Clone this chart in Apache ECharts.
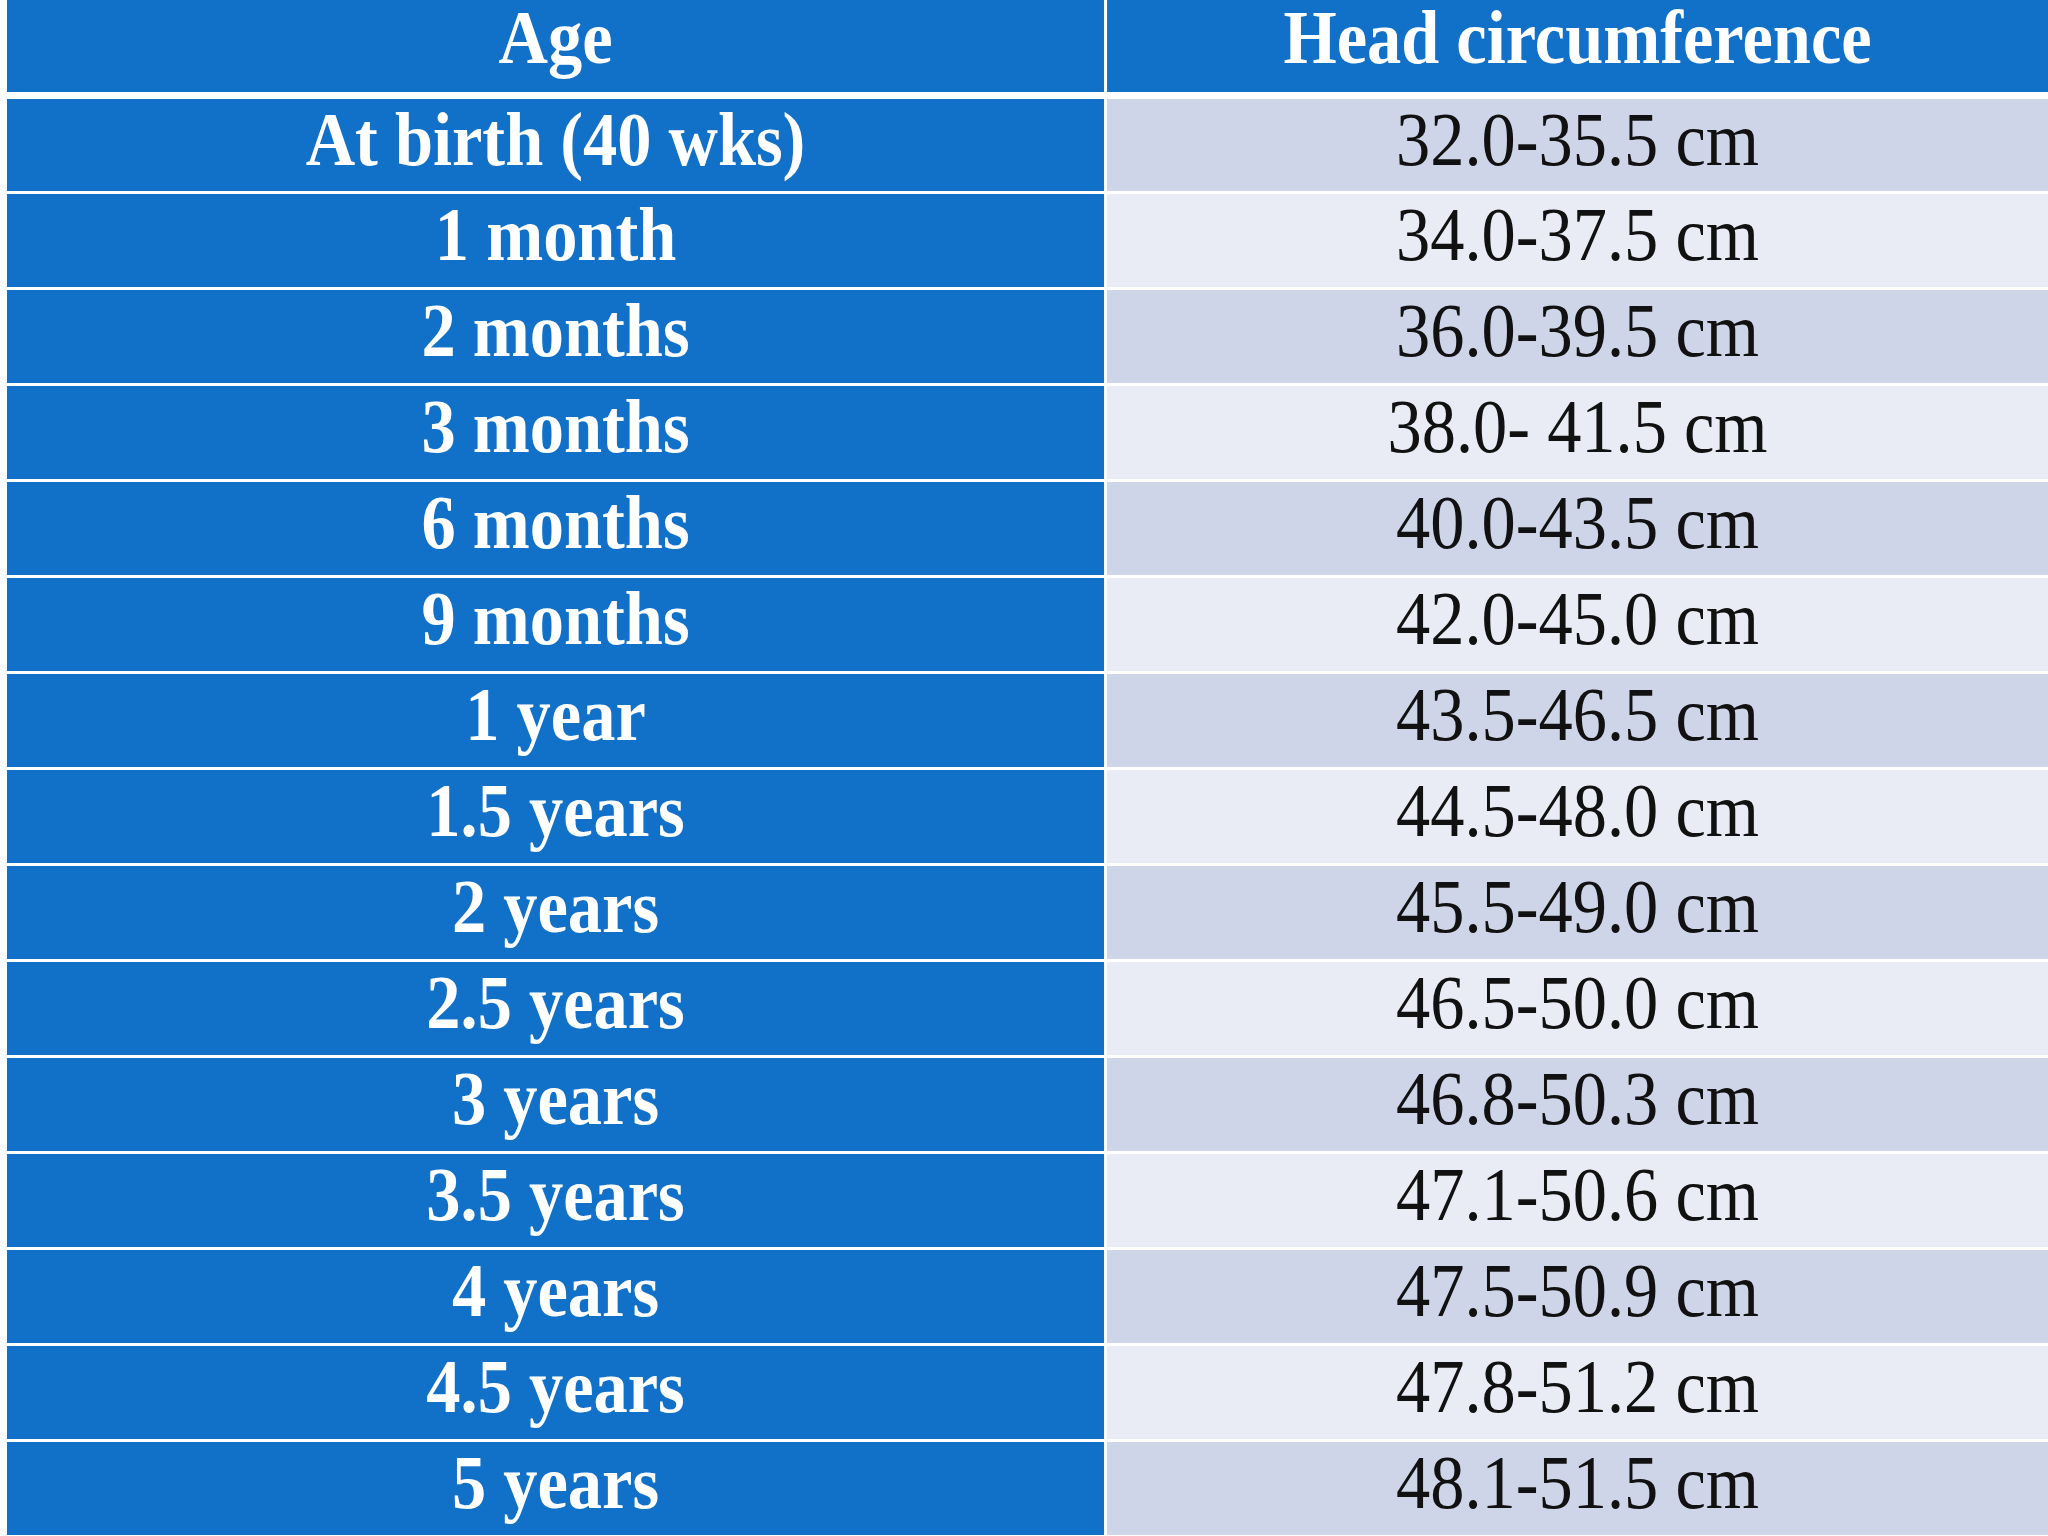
<!DOCTYPE html>
<html>
<head>
<meta charset="utf-8">
<title>Head circumference by age</title>
<script src="https://cdn.jsdelivr.net/npm/echarts@6.0.0/dist/echarts.min.js"></script>
<style>
  body { margin: 0; background: #fff; }
  #main { width: 2048px; height: 1536px; }
</style>
</head>
<body>
<div id="main"></div>
<script>
// table data
const headers = ['Age', 'Head circumference'];
const ages = ['At birth (40 wks)', '1 month', '2 months', '3 months', '6 months', '9 months',
  '1 year', '1.5 years', '2 years', '2.5 years', '3 years', '3.5 years', '4 years', '4.5 years', '5 years'];
const ranges = ['32.0-35.5 cm', '34.0-37.5 cm', '36.0-39.5 cm', '38.0- 41.5 cm', '40.0-43.5 cm',
  '42.0-45.0 cm', '43.5-46.5 cm', '44.5-48.0 cm', '45.5-49.0 cm', '46.5-50.0 cm', '46.8-50.3 cm',
  '47.1-50.6 cm', '47.5-50.9 cm', '47.8-51.2 cm', '48.1-51.5 cm'];

const rows = ['header'].concat(ages.map((_, i) => 'r' + i));
const colSplit = 0.538; // share of width for the Age column

// one item per cell: [colIndex, rowIndex]
const cells = [];
rows.forEach((r, ri) => { cells.push([0, ri]); cells.push([1, ri]); });

const BLUE = '#1170c8';
const FONT = '"Liberation Serif", "DejaVu Serif", serif';

const chart = echarts.init(document.getElementById('main'));

function cellText(col, row) {
  if (row === 0) return headers[col];
  return col === 0 ? ages[row - 1] : ranges[row - 1];
}

chart.setOption({
  animation: false,
  backgroundColor: '#ffffff',
  grid: { left: 7, right: 0, top: 0, bottom: 0 },
  xAxis: { type: 'value', min: 0, max: 1, show: false },
  yAxis: { type: 'category', data: rows, inverse: true, show: false },
  series: [{
    type: 'custom',
    data: cells,
    renderItem: function (params, api) {
      const col = api.value(0), row = api.value(1);
      const x0 = api.coord([col === 0 ? 0 : colSplit, row])[0];
      const x1 = api.coord([col === 0 ? colSplit : 1, row])[0];
      const yc = api.coord([0, row])[1];
      const h = api.size([0, 1])[1];
      let top = yc - h / 2, bottom = yc + h / 2;
      if (row === 0) bottom -= 4; else { top += 2; bottom -= 1; }
      if (row === 1) top += 1;
      const left = x0 + (col === 1 ? 2 : 0);
      const right = x1 - (col === 0 ? 1 : 0);
      let fill = BLUE;
      if (col === 1 && row > 0) fill = (row % 2 === 1) ? '#cfd5e8' : '#e9ecf4';
      const isBlue = fill === BLUE;
      const cx = (left + right) / 2, cy = (top + bottom) / 2 + (row === 0 ? -3 : 0);
      return {
        type: 'group',
        children: [{
          type: 'rect',
          shape: { x: left, y: top, width: right - left, height: bottom - top },
          style: { fill: fill }
        }, {
          type: 'text',
          x: cx, y: cy,
          scaleX: 0.9,
          style: {
            text: cellText(col, row),
            fill: isBlue ? '#ffffff' : '#111111',
            font: (isBlue ? 'bold ' : '') + '76px ' + FONT,
            align: 'center',
            verticalAlign: 'middle'
          }
        }]
      };
    }
  }]
});
</script>
</body>
</html>
